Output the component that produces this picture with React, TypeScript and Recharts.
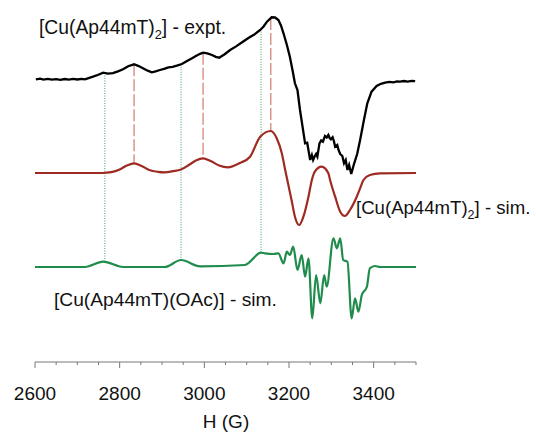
import React from 'react';
import { LineChart, Line, XAxis, YAxis, ReferenceLine } from 'recharts';

// field axis (G)
const fieldTicks = [2600, 2650, 2700, 2750, 2800, 2850, 2900, 2950, 3000, 3050, 3100, 3150, 3200, 3250, 3300, 3350, 3400, 3450, 3500];

// experimental spectrum (relative to its own baseline)
const exptField = [
  2602, 2612, 2620, 2630, 2640, 2650, 2660, 2670, 2680, 2690, 2700, 2710, 2718, 2728, 2737, 2748, 2761, 2772, 2784, 2796,
  2808, 2820, 2834, 2845, 2855, 2866, 2876, 2885, 2895, 2905, 2915, 2925, 2935, 2947, 2959, 2970, 2980, 2990, 2997, 3007,
  3018, 3027, 3035, 3048, 3061, 3075, 3091, 3105, 3118, 3132, 3140, 3148, 3159, 3167, 3175, 3181, 3187, 3195, 3202, 3208,
  3214, 3220, 3226, 3232, 3238, 3243, 3250, 3254, 3257, 3261, 3264, 3267, 3272, 3276, 3280, 3285, 3289, 3293, 3296, 3299,
  3303, 3306, 3309, 3314, 3317, 3321, 3326, 3330, 3334, 3338, 3342, 3347, 3354, 3361, 3368, 3377, 3385, 3395, 3407, 3417,
  3427, 3437, 3447, 3455, 3462, 3472, 3480, 3490, 3498,
];
const exptSignal = [
  0.7, 1.3, 0.4, 1.1, 0.3, 0.9, 0.2, 1.0, 0.4, 1.1, 0.5, 1.2, 0.7, 2.2, 3.3, 5.0, 7.3, 6.4, 6.9, 8.6,
  10.7, 13.8, 15.7, 13.9, 11.7, 9.3, 7.7, 8.6, 10.0, 11.1, 12.6, 13.2, 14.3, 16.0, 19.0, 21.6, 24.0, 26.2, 27.3, 26.6,
  25.0, 23.1, 22.3, 25.8, 30.0, 33.6, 38.3, 42.2, 45.4, 50.0, 53.5, 58.3, 62.7, 62.5, 60.0, 54.5, 46.7, 35.0, 23.3, 10.5,
  -3.3, -10, -30, -46.7, -63.3, -62.7, -80, -75, -80, -76, -74, -76.7, -63.3, -60.5, -61.7, -56, -57.5, -55, -58, -59.3,
  -57.3, -61, -66.7, -65, -70, -74, -76, -83.3, -80, -90, -85, -94, -83.3, -74, -60, -40, -23.3, -11.7, -6, -3.8,
  -2.7, -1.8, -2.4, -1.5, -1.7, -1.0, -1.6, -0.9, -1.2,
];

// simulated [Cu(Ap44mT)2]
const simField = [
  2600, 2760, 2780, 2800, 2817, 2834, 2852, 2870, 2890, 2907, 2925, 2945, 2965, 2980, 2997, 3015, 3035, 3056, 3084, 3108,
  3132, 3157, 3171, 3183, 3191, 3206, 3214, 3224, 3234, 3246, 3254, 3261, 3277, 3293, 3297, 3309, 3321, 3332, 3344, 3360,
  3368, 3376, 3391, 3415, 3500,
];
const simSignal = [
  0, 0, 0.8, 3.5, 7.5, 9.7, 7, 3, 1.2, 0.7, 1.8, 3.5, 8.5, 12.5, 14.7, 12, 7.5, 5.7, 10, 16.3,
  36.3, 42, 34.7, 19.7, 3, -27, -43.7, -52, -43.7, -23.7, -7, 1.3, 6.3, -0.3, -7, -23.7, -38.7, -43, -37, -23.7,
  -15.3, -7, -2, -0.3, 0,
];

// simulated [Cu(Ap44mT)(OAc)]
const oacField = [
  2600, 2718, 2761, 2808, 2907, 2945, 2990, 3096, 3134, 3143, 3163, 3175, 3187, 3195, 3202, 3210, 3220, 3230, 3238, 3246,
  3255, 3264, 3274, 3283, 3289, 3305, 3313, 3321, 3328, 3338, 3348, 3356, 3364, 3372, 3384, 3391, 3403, 3415, 3500,
];
const oacSignal = [
  0, 0, 5.3, 0, 0, 7, 0.7, 2, 14.3, 13.7, 13, 13.7, 3.7, 15.3, 12, 20.3, -3, 12, -9.7, 8.7,
  -51.3, -8, -36.3, -8, -19.7, 28.7, 18.7, 28.7, 7, 5.3, -51.3, -31.3, -44.7, -28, -19.7, -1.3, 1, 0, 0,
];

// vertical offsets of the stacked traces
const EXPT_OFFSET = 282;
const SIM_OFFSET = 189;
const OAC_OFFSET = 95;

// marker positions (G)
const simMarkers = [2834, 2997, 3157];
const oacMarkers = [2765, 2945, 3134];

const FONT = '"Liberation Sans", Arial, sans-serif';

function toPoints(fields: number[], values: number[], offset: number) {
  return fields.map((f, i) => ({ h: f, v: values[i] + offset }));
}

function valueAt(fields: number[], values: number[], g: number) {
  for (let i = 0; i < fields.length - 1; i++) {
    if (g >= fields[i] && g <= fields[i + 1]) {
      const t = (g - fields[i]) / (fields[i + 1] - fields[i]);
      return values[i] + t * (values[i + 1] - values[i]);
    }
  }
  return values[values.length - 1];
}

const exptData = toPoints(exptField, exptSignal, EXPT_OFFSET);
const simData = toPoints(simField, simSignal, SIM_OFFSET);
const oacData = toPoints(oacField, oacSignal, OAC_OFFSET);

const AxisTick = (props: any) => {
  const { x, y, payload } = props;
  const major = payload.value % 200 === 0;
  return (
    <g>
      <line x1={x} x2={x} y1={y} y2={y + (major ? 6 : 3)} stroke="#777" strokeWidth={1} />
      {major && (
        <text x={x} y={y + 38} textAnchor="middle" fontSize={19} fontFamily={FONT} fill="#111">
          {payload.value}
        </text>
      )}
    </g>
  );
};

export default function App() {
  return (
    <div style={{ position: 'absolute', left: 0, top: 0, width: 536, height: 433, background: '#fff' }}>
      <LineChart width={536} height={433} margin={{ top: 12, right: 120, left: 35, bottom: 0 }}>
        <XAxis
          dataKey="h"
          type="number"
          domain={[2600, 3500]}
          ticks={fieldTicks}
          height={71}
          tickLine={false}
          tickSize={0}
          tickMargin={0}
          axisLine={{ stroke: '#777', strokeWidth: 1 }}
          tick={<AxisTick />}
          interval={0}
        />
        <YAxis hide type="number" domain={[0, 350]} />
        {simMarkers.map(g => (
          <ReferenceLine
            key={'s' + g}
            segment={[
              { x: g, y: EXPT_OFFSET + valueAt(exptField, exptSignal, g) },
              { x: g, y: SIM_OFFSET + valueAt(simField, simSignal, g) },
            ]}
            stroke="#cf7a6c"
            strokeWidth={1.2}
            strokeDasharray="12 3"
          />
        ))}
        {oacMarkers.map(g => (
          <ReferenceLine
            key={'o' + g}
            segment={[
              { x: g, y: EXPT_OFFSET + valueAt(exptField, exptSignal, g) },
              { x: g, y: OAC_OFFSET + valueAt(oacField, oacSignal, g) },
            ]}
            stroke="#3a9a5e"
            strokeWidth={1}
            strokeDasharray="1 1.5"
          />
        ))}
        <Line data={exptData} dataKey="v" type="linear" stroke="#000" strokeWidth={2.3} dot={false} isAnimationActive={false} />
        <Line data={simData} dataKey="v" type="monotone" stroke="#9e2a22" strokeWidth={2.2} dot={false} isAnimationActive={false} />
        <Line data={oacData} dataKey="v" type="monotone" stroke="#1f8c4c" strokeWidth={2.2} dot={false} isAnimationActive={false} />
      </LineChart>
      <svg width={536} height={433} style={{ position: 'absolute', left: 0, top: 0, pointerEvents: 'none' }}>
        <g fontFamily={FONT} fill="#111">
          <text x={39} y={33.5} fontSize={19.3}>
            [Cu(Ap44mT)<tspan fontSize={12.8} dy={5}>2</tspan><tspan dy={-5}>] - expt.</tspan>
          </text>
          <text x={356} y={214} fontSize={18.6}>
            [Cu(Ap44mT)<tspan fontSize={12.5} dy={5}>2</tspan><tspan dy={-5}>] - sim.</tspan>
          </text>
          <text x={54} y={306} fontSize={19.2}>[Cu(Ap44mT)(OAc)] - sim.</text>
          <text x={226} y={428} fontSize={19} textAnchor="middle">H (G)</text>
        </g>
      </svg>
    </div>
  );
}
